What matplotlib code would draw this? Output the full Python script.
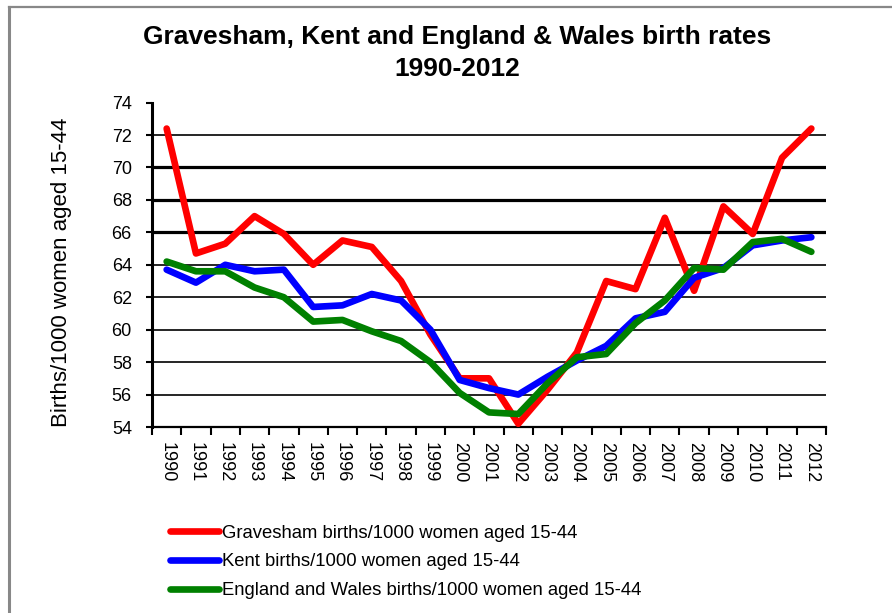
import matplotlib
matplotlib.use("Agg")
import matplotlib.pyplot as plt
from matplotlib.lines import Line2D

years = [str(y) for y in range(1990, 2013)]
gravesham = [72.4, 64.7, 65.3, 67.0, 65.9, 64.0, 65.5, 65.1, 63.0, 59.7, 57.0, 57.0,
             54.2, 56.3, 58.6, 63.0, 62.5, 66.9, 62.4, 67.6, 65.9, 70.6, 72.4]
kent = [63.7, 62.9, 64.0, 63.6, 63.7, 61.4, 61.5, 62.2, 61.8, 60.0, 56.9, 56.4,
        56.0, 57.1, 58.1, 59.0, 60.7, 61.1, 63.2, 63.8, 65.2, 65.5, 65.7]
eng_wales = [64.2, 63.6, 63.6, 62.6, 62.0, 60.5, 60.6, 59.9, 59.3, 58.0, 56.1, 54.9,
             54.8, 56.7, 58.3, 58.5, 60.4, 61.8, 63.8, 63.7, 65.4, 65.6, 64.8]
labels = ["Gravesham births/1000 women aged 15-44",
          "Kent births/1000 women aged 15-44",
          "England and Wales births/1000 women aged 15-44"]
colors = ["#FF0000", "#0000FF", "#008000"]
title = "Gravesham, Kent and England & Wales birth rates\n1990-2012"
ylabel = "Births/1000 women aged 15-44"

plt.rcParams['font.family'] = ['Liberation Sans', 'DejaVu Sans']

W, H = 892, 613
fig = plt.figure(figsize=(W / 100, H / 100), dpi=100)
fig.patch.set_facecolor("white")

# frame lines (top and left)
fig.add_artist(Line2D([9 / W, 9 / W], [0, 1 - 6.5 / H], transform=fig.transFigure,
                      color="#888888", lw=2.2))
fig.add_artist(Line2D([9 / W, 1], [1 - 6.5 / H, 1 - 6.5 / H], transform=fig.transFigure,
                      color="#888888", lw=1.6))

left, right, top, bottom = 152, 826, 102.6, 427
ax = fig.add_axes([left / W, 1 - bottom / H, (right - left) / W, (bottom - top) / H])

x = list(range(len(years)))
for series, c, lab in zip([gravesham, kent, eng_wales], colors, labels):
    ax.plot(x, series, color=c, lw=4.8, label=lab, solid_joinstyle="round",
            solid_capstyle="round", zorder=3)

ax.set_xlim(-0.5, len(years) - 0.5)
ax.set_ylim(54, 74)
ax.set_yticks(range(54, 75, 2))
ax.set_xticks([i - 0.5 for i in range(len(years) + 1)])
ax.set_xticklabels([])
ax.set_xticks(x, minor=True)
ax.set_xticklabels(years, minor=True, rotation=-90, fontsize=13)
ax.tick_params(axis="x", which="major", length=6, width=1.5, direction="out")
ax.tick_params(axis="x", which="minor", length=0, pad=11)
ax.tick_params(axis="y", length=4.5, width=1.5, direction="out", pad=10, labelsize=13)

ax.yaxis.grid(True, color="black", lw=1.2)
for gl, v in zip(ax.get_ygridlines(), ax.get_yticks()):
    if v in (66, 68, 70):
        gl.set_linewidth(2.3)
    if v in (54, 74):
        gl.set_visible(False)
ax.set_axisbelow(True)

for s in ["top", "right"]:
    ax.spines[s].set_visible(False)
ax.spines["left"].set_linewidth(2.2)
ax.spines["bottom"].set_linewidth(1.6)

ax.set_ylabel(ylabel, fontsize=16)
ax.yaxis.set_label_coords(-0.119, 0.478)

fig.text(457 / W, 1 - 53 / H, title, ha="center", va="center", fontsize=19,
         fontweight="bold", linespacing=1.38)

handles, labs = ax.get_legend_handles_labels()
leg = fig.legend(handles, labs, loc="center left", bbox_to_anchor=(170 / W, 1 - 562 / H),
                 frameon=False, fontsize=13.3, handlelength=2.65, handletextpad=0.15,
                 borderpad=0, borderaxespad=0, labelspacing=0.64)
for lh in leg.get_lines():
    lh.set_linewidth(4.8)

fig.savefig("out.png", dpi=100)
